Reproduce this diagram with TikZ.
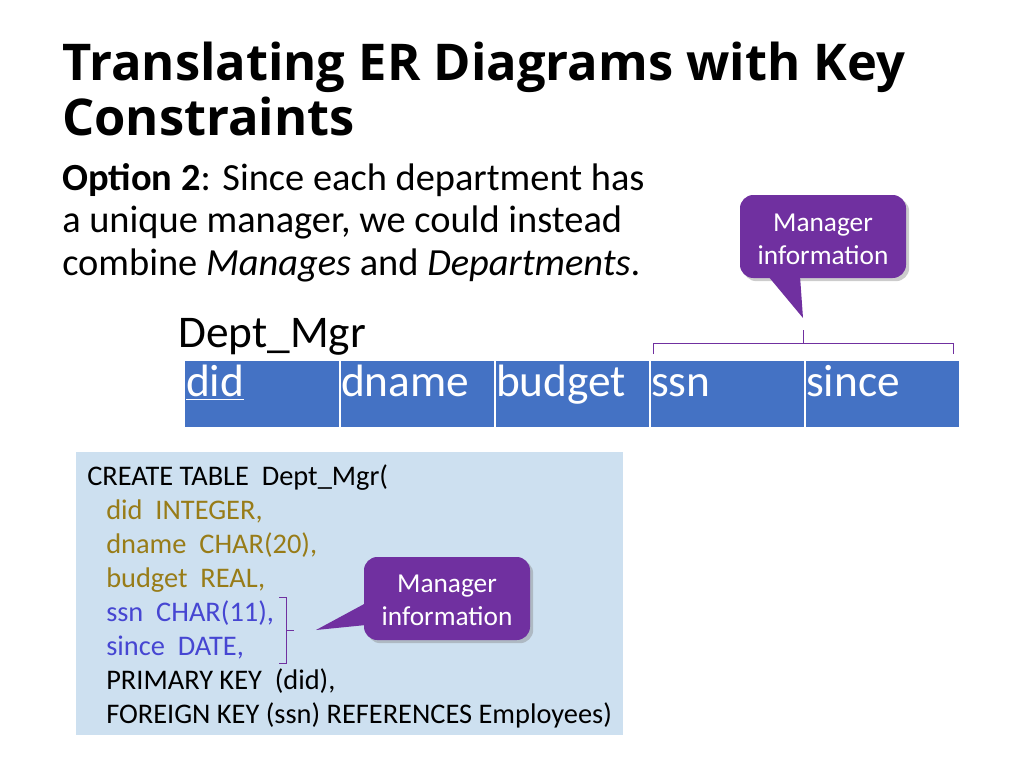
\documentclass[tikz,border=0pt]{standalone}
\usepackage{fontspec}
\setmainfont{Carlito}
\newfontfamily\titlefont{Open Sans}
\usetikzlibrary{positioning,shadows}
\definecolor{cellblue}{RGB}{68,114,196}
\definecolor{calloutpurple}{RGB}{112,48,160}
\definecolor{codebg}{RGB}{205,224,240}
\definecolor{attrgold}{RGB}{152,124,24}
\definecolor{attrblue}{RGB}{70,70,210}
\begin{document}
\begin{tikzpicture}[x=0.75pt, y=-0.75pt,
  cell/.style={fill=cellblue, draw=white, thin, minimum width=154.5*0.75pt,
    minimum height=67*0.75pt, inner sep=0pt, text=white, font=\fontsize{34}{38}\selectfont,
    text width=152*0.75pt, align=left, text height=0.68em, text depth=0.2em},
  callout/.style={fill=calloutpurple, rounded corners=10pt, drop shadow={opacity=0.4}},
  callouttext/.style={text=white, align=center, font=\fontsize{20.5}{25}\selectfont},
  codeline/.style={anchor=base west, inner sep=0pt, font=\fontsize{21.3}{24}\selectfont},
  brace/.style={calloutpurple, thin}
]
\useasboundingbox (0,0) rectangle (1024,768);

% Title and text
\node[anchor=base west, inner sep=0pt, font=\titlefont\bfseries\fontsize{38}{44}\selectfont] (title1) at (62,80) {Translating ER Diagrams with Key};
\node[anchor=base west, inner sep=0pt, font=\titlefont\bfseries\fontsize{38}{44}\selectfont] (title2) at (62,135) {Constraints};
\node[anchor=base west, inner sep=0pt, font=\fontsize{28.8}{34}\selectfont] (opt1) at (62,190) {\textbf{Option 2}: Since each department has};
\node[anchor=base west, inner sep=0pt, font=\fontsize{28.8}{34}\selectfont] (opt2) at (62,232) {a unique manager, we could instead};
\node[anchor=base west, inner sep=0pt, font=\fontsize{28.8}{34}\selectfont] (opt3) at (62,275) {combine \textit{Manages} and \textit{Departments}.};

% Table
\node[anchor=base west, inner sep=0pt, font=\fontsize{34}{38}\selectfont] (tname) at (178,347) {Dept\_Mgr};
\node[cell] (did) at (262,393.5) {\underline{did}};
\node[cell, right=0pt of did] (dname) {dname};
\node[cell, right=0pt of dname] (budget) {budget};
\node[cell, right=0pt of budget] (ssn) {ssn};
\node[cell, right=0pt of ssn] (since) {since};

% Bracket over ssn and since
\coordinate (bl) at (653,354);
\coordinate (br) at (953,354);
\coordinate (bm) at (803,343);
\coordinate (btip) at (803,330);
\draw[brace] (bl) |- (br |- bm) -- (br);
\draw[brace] (bm) -- (btip);

% Top callout
\fill[callout] (740,195) rectangle (906,278);
\fill[calloutpurple] (768,276) -- (803,318) -- (800,276) -- cycle;
\node[callouttext] (info1) at (823,239) {Manager\\information};

% Code box
\fill[codebg] (76,452) rectangle (623,735);
\node[codeline] (c1) at (87,485) {CREATE TABLE\ \ Dept\_Mgr(};
\node[codeline, text=attrgold] (c2) at (106,519) {did\ \ INTEGER,};
\node[codeline, text=attrgold] (c3) at (106,553) {dname\ \ CHAR(20),};
\node[codeline, text=attrgold] (c4) at (106,587) {budget\ \ REAL,};
\node[codeline, text=attrblue] (c5) at (106,621) {ssn\ \ CHAR(11),};
\node[codeline, text=attrblue] (c6) at (106,655) {since\ \ DATE,};
\node[codeline] (c7) at (106,689) {PRIMARY KEY\ \ (did),};
\node[codeline] (c8) at (106,723) {FOREIGN KEY (ssn) REFERENCES Employees)};

% Bracket for ssn and since
\draw[brace] (279,597) -- (286,597) -- (286,663) -- (279,663);
\draw[brace] (286,630) -- (294,630);

% Lower callout
\fill[callout] (364,557) rectangle (530,640);
\fill[calloutpurple] (366,603) -- (316,630) -- (366,625) -- cycle;
\node[callouttext] (info2) at (447,600) {Manager\\information};
\end{tikzpicture}
\end{document}
